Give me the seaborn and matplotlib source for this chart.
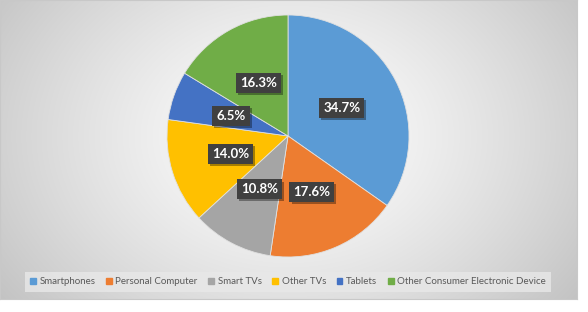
import numpy as np
import matplotlib
matplotlib.use("Agg")
import matplotlib.pyplot as plt
import matplotlib.patches as mpatches
import matplotlib.patheffects as pe
import seaborn as sns

categories = ["Smartphones", "Personal Computer", "Smart TVs", "Other TVs",
              "Tablets", "Other Consumer Electronic Device"]
values = [34.7, 17.6, 10.8, 14.0, 6.5, 16.3]
labels = ["34.7%", "17.6%", "10.8%", "14.0%", "6.5%", "16.3%"]
colors = ["#5B9BD5", "#ED7D31", "#A5A5A5", "#FFC000", "#4472C4", "#70AD47"]

sns.set_style("white")
plt.rcParams['font.family'] = ['Lato', 'DejaVu Sans']

W, H = 588, 312
fig = plt.figure(figsize=(W / 100, H / 100), dpi=100)
fig.patch.set_facecolor("white")

# background gradient panel
bg = fig.add_axes([0, 13 / H, 577 / W, 299 / H])
yy, xx = np.mgrid[0:299, 0:577]
cx, cy = 288, 136
d = np.sqrt(((xx - cx) / 340.0) ** 2 + ((yy - cy) / 260.0) ** 2)
v = 1.0 - 0.22 * np.clip(d, 0, 1.3) ** 1.3
img = np.dstack([v, v, v])
bg.imshow(img, aspect="auto", extent=[0, 577, 299, 0], interpolation="bilinear")
bg.set_xlim(0, 577)
bg.set_ylim(299, 0)
bg.set_xticks([])
bg.set_yticks([])
for s in bg.spines.values():
    s.set_color("#C8C8C8")
    s.set_linewidth(0.8)

# pie axes
R = 121
ax = fig.add_axes([(cx - R) / W, (H - cy - R) / H, 2 * R / W, 2 * R / H])
ax.set_facecolor("none")
wedges, texts = ax.pie(values, colors=colors, startangle=90, counterclock=False,
                       labels=labels, labeldistance=0.5,
                       wedgeprops=dict(linewidth=0.6, edgecolor="#E0E0E0"),
                       textprops=dict(color="white", fontsize=9.5, fontweight="bold",
                                      ha="center", va="center"))
ax.set_xlim(-1, 1)
ax.set_ylim(-1, 1)
ax.set_aspect("auto")
ax.axis("off")

for t in texts:
    t.set_bbox(dict(boxstyle="square,pad=0.3", facecolor="#404040", edgecolor="none"))
    t.get_bbox_patch().set_path_effects(
        [pe.SimplePatchShadow(offset=(1.5, -1.5), shadow_rgbFace="black", alpha=0.35),
         pe.Normal()])
    t.set_zorder(4)

handles = [mpatches.Patch(color=c, label=l) for c, l in zip(colors, categories)]
leg = fig.legend(handles=handles, loc="center", bbox_to_anchor=(288 / W, (H - 282) / H),
                 ncol=6, fontsize=7, frameon=True, handlelength=0.6, handleheight=0.6,
                 handletextpad=0.35, columnspacing=1.1, borderpad=0.55, fancybox=False)
leg.get_frame().set_facecolor("#E8E8E8")
leg.get_frame().set_edgecolor("none")
leg.get_frame().set_alpha(0.8)
for t in leg.get_texts():
    t.set_color("#595959")

fig.savefig("out.png", dpi=100)
